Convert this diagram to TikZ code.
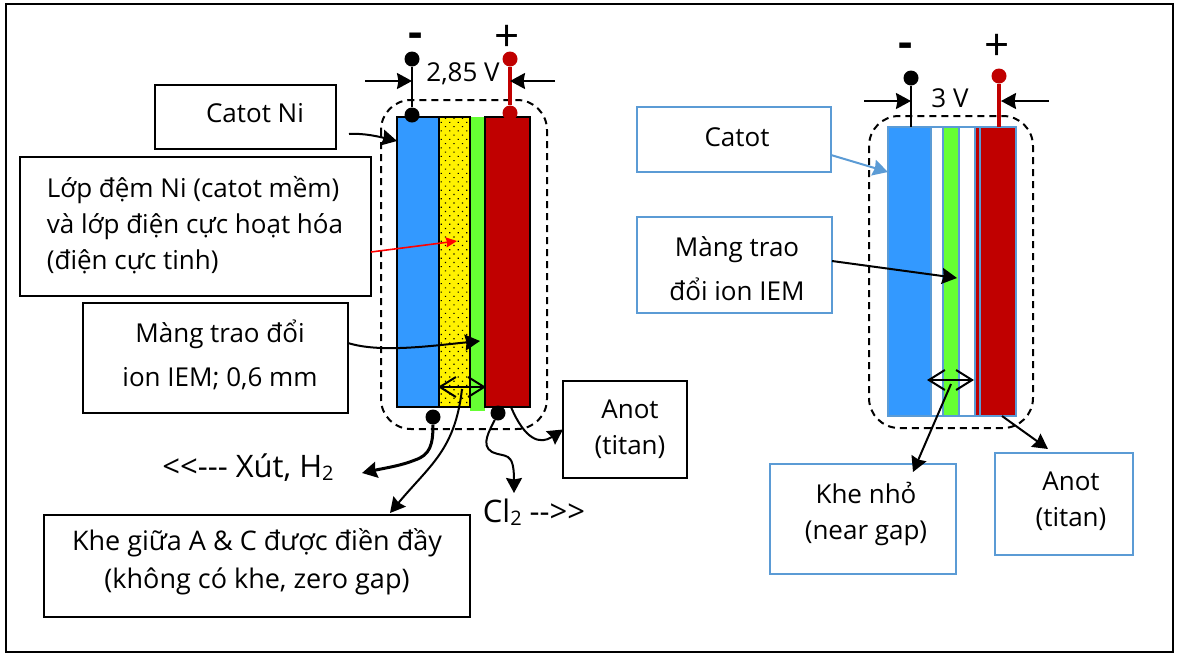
\documentclass[tikz,border=0pt]{standalone}
\usepackage{fontspec}
\setmainfont{Open Sans}
\usetikzlibrary{arrows.meta,patterns.meta,calc}
\definecolor{bluec}{HTML}{3399FF}
\definecolor{redc}{HTML}{C00000}
\definecolor{greenc}{HTML}{66FF33}
\definecolor{edgeb}{HTML}{5B9BD5}
\newcommand{\zone}[6]{% name,x1,y1,x2,y2,style
  \pgfmathsetmacro{\zcx}{(#2+#4)/2}\pgfmathsetmacro{\zcy}{(#3+#5)/2}
  \pgfmathsetmacro{\zwd}{#4-#2}\pgfmathsetmacro{\zht}{#5-#3}
  \node[zonebase,minimum width=\zwd pt,minimum height=\zht pt,#6] (#1) at (\zcx,\zcy) {};}
\newcommand{\subtwo}{\raisebox{-3pt}{\fontsize{20}{20}\selectfont 2}}
\tikzset{
  x=1pt,y=-1pt,
  zonebase/.style={rectangle,inner sep=0pt,outer sep=0pt},
  blackbox/.style={draw=black,line width=2pt},
  bluebox/.style={draw=edgeb,line width=2pt},
  txt/.style={font=\fontsize{26}{36}\selectfont,inner sep=0pt,align=center,text=black},
  txtl/.style={txt,align=left},
  big/.style={font=\fontsize{31}{34}\selectfont,inner sep=0pt},
  dotk/.style={circle,fill=black,inner sep=0pt,minimum size=15pt},
  dotr/.style={circle,fill=redc,inner sep=0pt,minimum size=15pt},
  tipk/.style={-{Stealth[inset=1.5pt,length=15pt,width=16pt]},line width=2pt,black},
  tipr/.style={-{Stealth[inset=1pt,length=11pt,width=10pt]},line width=1.6pt,red},
  tipb/.style={-{Stealth[inset=1.5pt,length=15pt,width=16pt]},line width=2pt,edgeb},
  openboth/.style={{Straight Barb[length=16pt,width=20pt]}-{Straight Barb[length=16pt,width=20pt]},line width=2pt,black},
  cage/.style={draw=black,line width=2pt,dash pattern=on 7pt off 5pt,rounded corners=30pt},
  wirek/.style={line width=2pt,black},
  wirer/.style={line width=4pt,redc},
  signm/.style={font=\fontsize{44}{44}\bfseries\selectfont,inner sep=0pt},
  signp/.style={font=\fontsize{44}{44}\selectfont,inner sep=0pt},
}
\begin{document}
\begin{tikzpicture}
\useasboundingbox (0,0) rectangle (1179,657);
\fill[white] (0,0) rectangle (1179,657);
\zone{frame}{6}{4}{1173}{652}{blackbox}
\coordinate (tickA) at (6,533); \coordinate (tickB) at (6,573);
\draw[line width=2pt] (tickA) -- (tickB);

% left cell
\draw[cage] (381,100) rectangle (547,429);
\zone{greenL}{470}{117}{485}{411}{fill=greenc}
\zone{blueL}{397}{117}{439}{407}{fill=bluec,blackbox}
\zone{yelL}{439}{117}{470}{407}{fill=yellow,blackbox,postaction={pattern={Dots[distance=6pt,angle=45,radius=0.8pt]},pattern color=black}}
\zone{redL}{485}{117}{530}{407}{fill=redc,blackbox}
\node[dotk] (negTopL) at (412,59) {};
\node[dotk] (negLowL) at (412,115) {};
\node[dotr] (posTopL) at (510,59) {};
\node[dotr] (posLowL) at (510,113) {};
\draw[wirek] (negTopL) -- (negLowL);
\draw[wirer] (posTopL) -- (posLowL);
\node[dotk] (dotXut) at (433,417) {};
\node[dotk] (dotCl) at (498,413) {};
\coordinate (gapLA) at (438,387); \coordinate (gapLB) at (486,387);
\draw[openboth] (gapLA) -- (gapLB);
\coordinate (vLA) at (365,81); \coordinate (vLB) at (412,81);
\coordinate (vLC) at (555,81); \coordinate (vLD) at (510,81);
\draw[tipk] (vLA) -- (vLB);
\draw[tipk] (vLC) -- (vLD);
\node[signm] (minusL) at (416,40) {-};
\node[signp] (plusL) at (507,38) {+};
\node[txt] (voltL) at (463,74) {2,85 V};

% left boxes
\zone{bCatNi}{155}{85}{336}{149}{blackbox}
\node[txt] (tCatNi) at (255,113) {Catot Ni};
\zone{bDem}{20}{157}{371}{296}{blackbox}
\node[txtl] (tDem) at (195,225) {Lớp đệm Ni (catot mềm)\\và lớp điện cực hoạt hóa\\(điện cực tinh)};
\zone{bMangL}{83}{303}{348}{413}{blackbox}
\node[txt,font=\fontsize{26}{44}\selectfont] (tMangL) at (220,355) {Màng trao đổi\\ion IEM; 0,6 mm};
\zone{bAnotL}{563}{381}{687}{478}{blackbox}
\node[txt] (tAnotL) at (630,429) {Anot\\(titan)};
\zone{bKheL}{44}{515}{470}{617}{blackbox}
\node[txt,font=\fontsize{27}{38}\selectfont] (tKheL) at (257,562) {Khe giữa A \& C được điền đầy\\(không có khe, zero gap)};
\node[big] (tXut) at (248,468) {<{}<-{}-{}- Xút, H\subtwo};
\node[big] (tCl) at (534,512) {Cl\subtwo{} -{}->{}>};

% left connectors
\coordinate (sCat) at (349,134); \coordinate (eCat) at (397,141);
\draw[tipk] (sCat) .. controls (365,133) and (380,137) .. (eCat);
\coordinate (sDem) at (371,252); \coordinate (eDem) at (457,241);
\draw[tipr] (sDem) -- (eDem);
\coordinate (sMang) at (348,343); \coordinate (eMang) at (480,341);
\draw[tipk] (sMang) .. controls (380,353) and (430,346) .. (eMang);
\coordinate (sKhe) at (462,389); \coordinate (eKhe) at (390,513);
\draw[tipk] (sKhe) .. controls (455,450) and (430,465) .. (eKhe);
\coordinate (eXut) at (362,473);
\draw[tipk,line width=3pt] (dotXut) .. controls (433,445) and (430,455) .. (415,460) .. controls (400,466) and (385,468) .. (eXut);
\coordinate (eCl) at (514,493);
\draw[tipk] (dotCl) .. controls (490,430) and (480,445) .. (492,452) .. controls (505,458) and (514,450) .. (eCl);
\coordinate (sAn) at (511,407);
\draw[tipk] (sAn) .. controls (525,440) and (540,445) .. (bAnotL.west);

% right cell
\draw[cage] (869,116) rectangle (1033,428);
\zone{blueR}{888}{127}{931}{416}{fill=bluec}
\zone{whiteR}{931}{127}{976}{416}{fill=white}
\zone{greenR}{943}{127}{959}{416}{fill=greenc}
\zone{thinR}{976}{127}{980}{416}{fill=redc}
\zone{redR}{980}{127}{1016}{416}{fill=redc}
\foreach \xa in {931,943,959,975,980} {\draw[edgeb,line width=2pt] (\xa,127) -- (\xa,416);}
\draw[edgeb,line width=2pt] (888,127) rectangle (1016,416);
\node[dotk] (negTopR) at (911,78) {};
\coordinate (negEnd) at (911,127);
\node[dotr] (posTopR) at (999,76) {};
\coordinate (posEnd) at (999,127);
\draw[wirek] (negTopR) -- (negEnd);
\draw[wirer] (posTopR) -- (posEnd);
\coordinate (gapRA) at (927,380); \coordinate (gapRB) at (974,380);
\draw[openboth] (gapRA) -- (gapRB);
\coordinate (vRA) at (864,101); \coordinate (vRB) at (911,101);
\coordinate (vRC) at (1049,101); \coordinate (vRD) at (1001,101);
\draw[tipk] (vRA) -- (vRB);
\draw[tipk] (vRC) -- (vRD);
\node[signm] (minusR) at (906,50) {-};
\node[signp] (plusR) at (997,47) {+};
\node[txt] (voltR) at (950,98) {3 V};

% right boxes
\zone{bCatR}{637}{107}{831}{172}{bluebox}
\node[txt] (tCatR) at (737,137) {Catot};
\zone{bMangR}{637}{217}{832}{313}{bluebox}
\node[txt,font=\fontsize{26}{44}\selectfont] (tMangR) at (737,269) {Màng trao\\đổi ion IEM};
\zone{bKheR}{770}{464}{956}{574}{bluebox}
\node[txt] (tKheR) at (866,514) {Khe nhỏ\\(near gap)};
\zone{bAnotR}{995}{453}{1133}{555}{bluebox}
\node[txt] (tAnotR) at (1071,501) {Anot\\(titan)};

% right connectors
\coordinate (sCatR) at (831,155); \coordinate (eCatR) at (888,172);
\draw[tipb] (sCatR) -- (eCatR);
\coordinate (sMangR) at (832,261); \coordinate (eMangR) at (957,278);
\draw[tipk] (sMangR) -- (eMangR);
\coordinate (sKheR) at (951,384); \coordinate (eKheR) at (913,472);
\draw[tipk] (sKheR) -- (eKheR);
\coordinate (sAnR) at (1002,416); \coordinate (eAnR) at (1048,449);
\draw[tipk] (sAnR) -- (eAnR);
\end{tikzpicture}
\end{document}
